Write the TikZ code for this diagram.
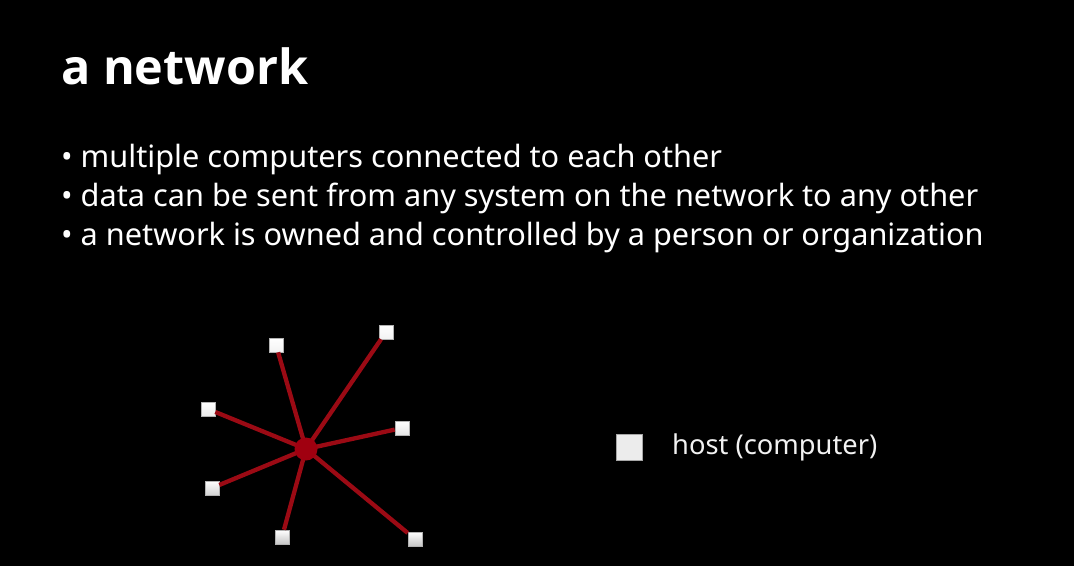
\documentclass[tikz,border=0pt]{standalone}
\usepackage{fontspec}
\setmainfont{Noto Sans}
\newfontfamily\titlefont{Open Sans}
\definecolor{linkred}{RGB}{155,10,20}
\definecolor{hubred}{RGB}{160,0,16}
\begin{document}
\begin{tikzpicture}[x=1pt,y=-1pt,
  host/.style={draw=gray!60, line width=0.6pt, minimum size=14pt, inner sep=0pt, shading=axis, top color=white, bottom color=#1},
  host/.default=gray!30,
  link/.style={draw=linkred, line width=4.3pt},
  txt/.style={text=white, anchor=base west, inner sep=0pt},
  bul/.style={txt, font=\fontsize{30.7}{32}\selectfont}]
\fill[black] (0,0) rectangle (1074,566);
\useasboundingbox (0,0) rectangle (1074,566);
\node[txt, font=\titlefont\bfseries\fontsize{48.5}{50}\selectfont] (title) at (61,84) {a network};
\node[bul] (b1) at (61,167) {• multiple computers connected to each other};
\node[bul] (b2) at (61,206) {• data can be sent from any system on the network to any other};
\node[bul] (b3) at (61,245) {• a network is owned and controlled by a person or organization};
\coordinate (hub) at (306,449);
\node[host=gray!10] (h1) at (276,345) {};
\node[host=gray!10] (h2) at (386,332) {};
\node[host=gray!15] (h3) at (208,409) {};
\node[host=gray!20] (h4) at (402,428) {};
\node[host=gray!35] (h5) at (212,488) {};
\node[host=gray!45] (h6) at (282,537) {};
\node[host=gray!45] (h7) at (415,539) {};
\foreach \h in {h1,h2,h3,h4,h5,h6,h7} \draw[link] (hub) -- (\h);
\fill[hubred] (hub) circle (11.5);
\node[draw=gray!70, line width=0.8pt, fill=gray!15, minimum size=26pt, inner sep=0pt] (leg) at (629,447) {};
\node[txt, text=gray!10, font=\fontsize{27.3}{29}\selectfont] (legt) at (672,454) {host (computer)};
\end{tikzpicture}
\end{document}
